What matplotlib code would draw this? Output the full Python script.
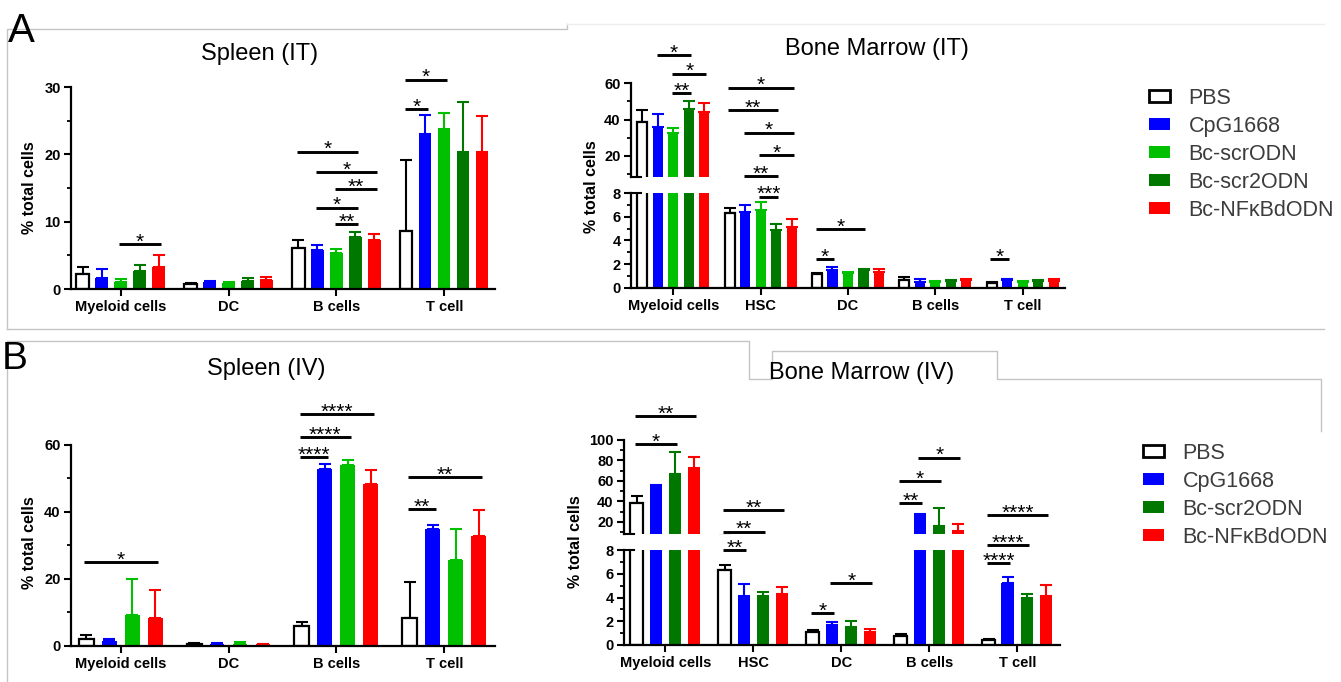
import numpy as np
import matplotlib.pyplot as plt
from matplotlib.lines import Line2D
from matplotlib.patches import Patch
from matplotlib.ticker import MultipleLocator

plt.rcParams["font.family"] = ["Liberation Sans", "DejaVu Sans"]

W, H = 1341, 682

# ------------------------------------------------------------------
# data (mean and SD, rows = cell type, cols = treatment)
# ------------------------------------------------------------------
GROUPS_SP = ["Myeloid cells", "DC", "B cells", "T cell"]
GROUPS_BM = ["Myeloid cells", "HSC", "DC", "B cells", "T cell"]

TREAT_IT = ["PBS", "CpG1668", "Bc-scrODN", "Bc-scr2ODN", "Bc-NFκBdODN"]
TREAT_IV = ["PBS", "CpG1668", "Bc-scr2ODN", "Bc-NFκBdODN"]

COL_IT = ["white", "#0000ff", "#00c000", "#007800", "#ff0000"]
COL_SP_IV = ["white", "#0000ff", "#00c000", "#ff0000"]
COL_BM_IV = ["white", "#0000ff", "#007800", "#ff0000"]

sp_it_mean = np.array([[2.3, 1.7, 1.05, 2.7, 3.3],
                       [0.8, 1.0, 0.85, 1.2, 1.3],
                       [6.1, 5.8, 5.3, 7.65, 7.35],
                       [8.65, 23.0, 23.8, 20.4, 20.4]])
sp_it_sd = np.array([[1.0, 1.2, 0.45, 0.9, 1.7],
                     [0.15, 0.15, 0.15, 0.4, 0.5],
                     [1.15, 0.8, 0.7, 0.75, 0.8],
                     [10.45, 2.8, 2.4, 7.4, 5.3]])

bm_it_mean = np.array([[38.7, 35.8, 32.8, 46.0, 44.2],
                       [6.28, 6.37, 6.54, 4.85, 5.1],
                       [1.13, 1.46, 1.24, 1.52, 1.32],
                       [0.68, 0.45, 0.5, 0.53, 0.62],
                       [0.39, 0.65, 0.5, 0.53, 0.56]])
bm_it_sd = np.array([[6.4, 7.1, 2.4, 4.4, 4.8],
                     [0.42, 0.59, 0.73, 0.53, 0.67],
                     [0.11, 0.26, 0.08, 0.06, 0.28],
                     [0.22, 0.25, 0.1, 0.15, 0.08],
                     [0.11, 0.11, 0.1, 0.11, 0.17]])

sp_iv_mean = np.array([[2.0, 1.5, 9.1, 8.2],
                       [0.5, 0.5, 0.5, 0.4],
                       [5.9, 52.9, 54.0, 48.3],
                       [8.4, 34.8, 25.6, 32.9]])
sp_iv_sd = np.array([[1.1, 0.4, 10.9, 8.4],
                     [0.2, 0.3, 0.5, 0.2],
                     [1.1, 1.4, 1.4, 4.3],
                     [10.5, 1.3, 9.3, 7.7]])

bm_iv_mean = np.array([[38.8, 54.0, 66.6, 72.5],
                       [6.37, 4.11, 4.11, 4.28],
                       [1.13, 1.69, 1.52, 1.13],
                       [0.73, 25.8, 16.4, 10.9],
                       [0.39, 5.2, 3.94, 4.17]])
bm_iv_sd = np.array([[6.8, 2.0, 21.7, 11.0],
                     [0.39, 1.04, 0.34, 0.62],
                     [0.11, 0.23, 0.48, 0.25],
                     [0.17, 2.3, 16.9, 7.5],
                     [0.11, 0.55, 0.34, 0.87]])

# significance brackets: (group, bar i, bar j, y, label)
sig_sp_it = [(0, 2, 4, 6.7, "*"),
             (2, 0, 3, 20.4, "*"), (2, 1, 4, 17.4, "*"), (2, 2, 4, 14.8, "**"),
             (2, 1, 3, 12.1, "*"), (2, 2, 3, 9.6, "**"),
             (3, 0, 2, 31.1, "*"), (3, 0, 1, 26.7, "*")]
sig_bm_it_up = [(0, 1, 3, 75.6, "*"), (0, 2, 4, 65.3, "*"), (0, 2, 3, 54.5, "**")]
sig_bm_it_lo = [(1, 0, 4, 16.9, "*"), (1, 0, 3, 15.0, "**"), (1, 1, 4, 13.1, "*"),
                (1, 2, 4, 11.2, "*"), (1, 1, 3, 9.4, "**"), (1, 2, 3, 7.7, "***"),
                (2, 0, 3, 4.96, "*"), (2, 0, 1, 2.4, "*"), (4, 0, 1, 2.4, "*")]
sig_sp_iv = [(0, 0, 3, 25.1, "*"),
             (2, 0, 3, 69.3, "****"), (2, 0, 2, 62.3, "****"), (2, 0, 1, 56.4, "****"),
             (3, 0, 3, 50.4, "**"), (3, 0, 1, 40.8, "**")]
sig_bm_iv_up = [(0, 0, 3, 122.7, "**"), (0, 0, 2, 95.5, "*"),
                (3, 0, 1, 38.5, "**"), (3, 0, 2, 59.5, "*"), (3, 1, 3, 82.5, "*")]
sig_bm_iv_lo = [(1, 0, 3, 11.4, "**"), (1, 0, 2, 9.58, "**"), (1, 0, 1, 8.0, "**"),
                (2, 0, 1, 2.68, "*"), (2, 1, 3, 5.24, "*"),
                (4, 0, 1, 6.9, "****"), (4, 0, 2, 8.45, "****"), (4, 0, 3, 11.0, "****")]

fig = plt.figure(figsize=(W / 100, H / 100), dpi=100)


def fx(x):
    return x / W


def fy(y):
    return 1 - y / H


def add_ax(x0, x1, ytop, ybot, ylim, xlim, major, minor, bottom=True):
    ax = fig.add_axes([fx(x0), fy(ybot), (x1 - x0) / W, (ybot - ytop) / H])
    ax.set_ylim(*ylim)
    ax.set_xlim(*xlim)
    for s in ["top", "right"]:
        ax.spines[s].set_visible(False)
    ax.spines["left"].set_linewidth(1.6)
    ax.spines["bottom"].set_linewidth(1.6)
    if not bottom:
        ax.spines["bottom"].set_visible(False)
        ax.set_xticks([])
    ax.yaxis.set_major_locator(MultipleLocator(major))
    ax.yaxis.set_minor_locator(MultipleLocator(minor))
    ax.tick_params(axis="y", which="major", length=5, width=1.5, pad=2.5,
                   labelsize=10.5)
    ax.tick_params(axis="y", which="minor", length=3, width=1.3)
    ax.tick_params(axis="x", length=5, width=1.5, pad=3, labelsize=10.5)
    for lab in ax.get_yticklabels():
        lab.set_fontweight("bold")
    ax.patch.set_alpha(0)
    return ax


def draw_bars(ax, means, sds, colors, slot, groups=None):
    ng, n = means.shape
    for k in range(n):
        x = np.arange(ng) + (k - (n - 1) / 2) * slot
        col = colors[k]
        ec = "black" if k == 0 else col
        ax.errorbar(x, means[:, k], yerr=[np.zeros(ng), sds[:, k]], fmt="none",
                    ecolor=ec, elinewidth=1.5, capsize=4, capthick=1.5, zorder=1)
        ax.bar(x, means[:, k], width=0.65 * slot, color=col, edgecolor=ec,
               linewidth=1.6 if k == 0 else 0, zorder=2)
    if groups is not None:
        ax.set_xticks(np.arange(ng))
        ax.set_xticklabels(groups, fontweight="bold")


def draw_sig(ax, sigs, n, slot):
    for g, i, j, y, lab in sigs:
        xi = g + (i - (n - 1) / 2) * slot - 0.08 * slot
        xj = g + (j - (n - 1) / 2) * slot + 0.12 * slot
        ax.plot([xi, xj], [y, y], color="black", lw=2.1, clip_on=False,
                solid_capstyle="butt", zorder=3)
        ax.annotate(lab, ((xi + xj) / 2, y), xytext=(0, -2.6),
                    textcoords="offset points", ha="center", va="baseline",
                    fontsize=15, annotation_clip=False)


def break_marks(ax_up, ax_lo):
    ax_up.plot([0, 0.024], [0, 0], transform=ax_up.transAxes, color="black",
               lw=1.5, clip_on=False)
    ax_lo.plot([0, 0.024], [1, 1], transform=ax_lo.transAxes, color="black",
               lw=1.5, clip_on=False)


# ------------------------------------------------------------------
# Spleen (IT)
# ------------------------------------------------------------------
slot = 0.176
ax = add_ax(71, 495, 87, 289, (0, 30), (-0.46, 3.47), 10, 5)
draw_bars(ax, sp_it_mean, sp_it_sd, COL_IT, slot, GROUPS_SP)
draw_sig(ax, sig_sp_it, 5, slot)

# ------------------------------------------------------------------
# Bone Marrow (IT) - broken axis
# ------------------------------------------------------------------
slot = 0.178
xl = (-0.485, 4.485)
ax_u = add_ax(631, 1065, 83.3, 177, (8.4, 60), xl, 20, 10, bottom=False)
ax_l = add_ax(631, 1065, 193, 287.7, (0, 8), xl, 2, 1)
draw_bars(ax_u, bm_it_mean, bm_it_sd, COL_IT, slot)
ax_u.set_xticks([])
draw_bars(ax_l, bm_it_mean, bm_it_sd, COL_IT, slot, GROUPS_BM)
draw_sig(ax_u, sig_bm_it_up, 5, slot)
draw_sig(ax_l, sig_bm_it_lo, 5, slot)
break_marks(ax_u, ax_l)

# ------------------------------------------------------------------
# Spleen (IV)
# ------------------------------------------------------------------
slot = 0.213
ax = add_ax(71, 495, 445, 645.7, (0, 60), (-0.46, 3.47), 20, 10)
draw_bars(ax, sp_iv_mean, sp_iv_sd, COL_SP_IV, slot, GROUPS_SP)
draw_sig(ax, sig_sp_iv, 4, slot)

# ------------------------------------------------------------------
# Bone Marrow (IV) - broken axis
# ------------------------------------------------------------------
slot = 0.218
xl = (-0.47, 4.485)
ax_u = add_ax(624, 1060, 439.7, 534, (8.3, 100), xl, 20, 10, bottom=False)
ax_l = add_ax(624, 1060, 550.3, 645, (0, 8), xl, 2, 1)
draw_bars(ax_u, bm_iv_mean, bm_iv_sd, COL_BM_IV, slot)
ax_u.set_xticks([])
draw_bars(ax_l, bm_iv_mean, bm_iv_sd, COL_BM_IV, slot, GROUPS_BM)
draw_sig(ax_u, sig_bm_iv_up, 4, slot)
draw_sig(ax_l, sig_bm_iv_lo, 4, slot)
break_marks(ax_u, ax_l)

# ------------------------------------------------------------------
# texts
# ------------------------------------------------------------------
title_kw = dict(fontsize=17, ha="center", va="baseline")
fig.text(fx(260), fy(60), "Spleen (IT)", **title_kw)
fig.text(fx(877), fy(55), "Bone Marrow (IT)", **title_kw)
fig.text(fx(266), fy(375), "Spleen (IV)", **title_kw)
fig.text(fx(862), fy(379), "Bone Marrow (IV)", **title_kw)

ylab_kw = dict(fontsize=11.5, fontweight="bold", rotation=90, ha="center",
               va="center")
fig.text(fx(30), fy(188), "% total cells", **ylab_kw)
fig.text(fx(592), fy(187), "% total cells", **ylab_kw)
fig.text(fx(30), fy(543), "% total cells", **ylab_kw)
fig.text(fx(575), fy(542), "% total cells", **ylab_kw)

fig.text(fx(8), fy(42), "A", fontsize=29, va="baseline", ha="left")
fig.text(fx(2), fy(369), "B", fontsize=28, va="baseline", ha="left")

# ------------------------------------------------------------------
# legends
# ------------------------------------------------------------------
def handles(colors):
    hs = []
    for k, c in enumerate(colors):
        if k == 0:
            hs.append(Patch(facecolor="white", edgecolor="black", linewidth=2))
        else:
            hs.append(Patch(facecolor=c, edgecolor=c, linewidth=0))
    return hs


leg_kw = dict(loc="upper left", frameon=False, fontsize=15.5, borderpad=0,
              borderaxespad=0, handlelength=0.98, handleheight=0.47,
              handletextpad=0.85, labelspacing=0.32, labelcolor="#3c3c3c")
fig.legend(handles(COL_IT), TREAT_IT, bbox_to_anchor=(fx(1149), fy(88)), **leg_kw)
fig.legend(handles(COL_BM_IV), TREAT_IV, bbox_to_anchor=(fx(1143), fy(443)), **leg_kw)

# ------------------------------------------------------------------
# panel frames
# ------------------------------------------------------------------
def frame(pts, color="#c4c4c4"):
    xs = [fx(p[0]) for p in pts]
    ys = [fy(p[1]) for p in pts]
    fig.add_artist(Line2D(xs, ys, color=color, lw=1.0))


frame([(7, 329), (7, 29), (567, 29), (567, 24)])
frame([(567, 24), (1324, 24)], color="#eeeeee")
frame([(7, 329), (1324, 329)])
frame([(7, 682), (7, 341), (749, 341), (749, 379), (772, 379), (772, 351),
       (997, 351), (997, 379), (1321, 379), (1321, 431)])

fig.savefig("out.png", dpi=100)
